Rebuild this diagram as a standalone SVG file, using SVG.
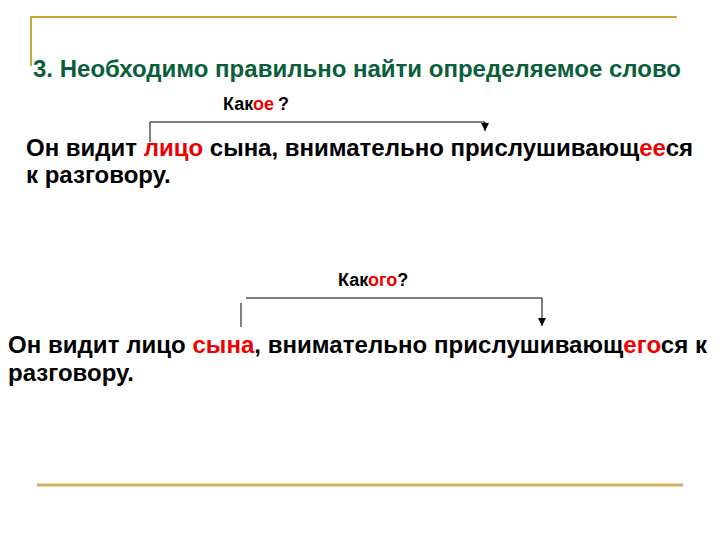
<svg xmlns="http://www.w3.org/2000/svg" width="720" height="540" viewBox="0 0 720 540">
<defs>
<style>
text{font-family:"Liberation Sans",Arial,sans-serif;font-weight:bold}
.title{fill:#0b5e3a;font-size:24px}
.q{fill:#000;font-size:18px}
.s{fill:#000;font-size:24px}
.r{fill:#ee0000}
.conn{stroke:#000;stroke-width:1;fill:none}
.gold{stroke:#c8a838;fill:none}
</style>
<marker id="arr" viewBox="0 0 8 8" refX="8" refY="4" markerWidth="8" markerHeight="8" markerUnits="userSpaceOnUse" orient="auto">
<path d="M0,0 L8,4 L0,8 z" fill="#000"/>
</marker>
</defs>
<rect width="720" height="540" fill="#fff"/>
<g id="frame">
<path class="gold" stroke-width="2" d="M31,66 V17 H677"/>
<line x1="37" y1="485" x2="683" y2="485" stroke="#d6b060" stroke-width="3"/>
</g>
<g id="title"><text class="title" x="33" y="77" textLength="648">3. Необходимо правильно найти определяемое слово</text></g>
<g id="q1"><text class="q" x="223" y="110">Как<tspan class="r">ое</tspan><tspan dx="4">?</tspan></text></g>
<g id="s1">
<text class="s" x="26" y="156" textLength="667">Он видит <tspan class="r">лицо</tspan> сына, внимательно прислушивающ<tspan class="r">ее</tspan>ся</text>
<text class="s" x="26" y="183">к разговору.</text>
</g>
<g id="q2"><text class="q" x="338" y="286">Как<tspan class="r">ого</tspan>?</text></g>
<g id="s2">
<text class="s" x="8" y="353" textLength="699">Он видит лицо <tspan class="r">сына</tspan>, внимательно прислушивающ<tspan class="r">его</tspan>ся к</text>
<text class="s" x="8" y="381">разговору.</text>
</g>
<g id="connectors">
<path class="conn" d="M150,142 V122 H485 V131" marker-end="url(#arr)"/>
<line class="conn" x1="241" y1="303" x2="241" y2="327"/>
<path class="conn" d="M246,298 H542 V326" marker-end="url(#arr)"/>
</g>
</svg>
